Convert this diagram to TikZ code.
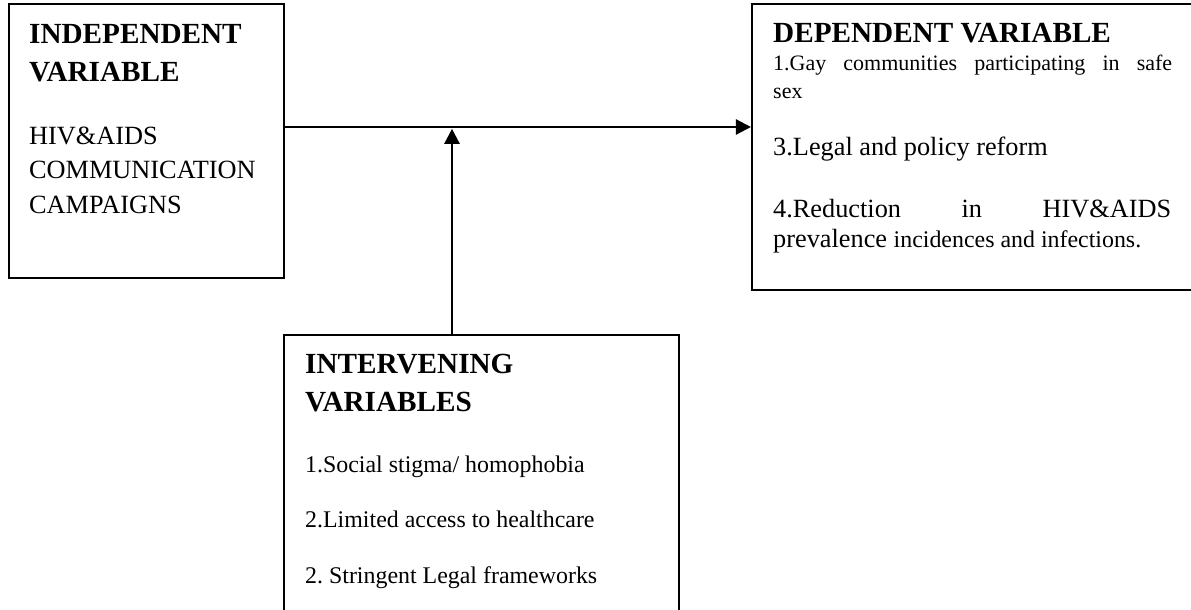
\documentclass[tikz,border=0pt]{standalone}
\usepackage{fontspec}
\setmainfont{Liberation Serif}
\usetikzlibrary{arrows.meta}
\frenchspacing
\begin{document}
\begin{tikzpicture}[x=1pt,y=-1pt,
  box/.style={draw, line width=2.1pt, inner sep=0, rectangle},
  arr/.style={line width=2.4pt, -{Triangle[length=15pt,width=15pt]}},
  txt/.style={anchor=base west, inner sep=0, font=\fontsize{26.3}{30}\selectfont},
  head/.style={anchor=base west, inner sep=0, font=\fontsize{29.2}{33}\selectfont\bfseries},
  smalltxt/.style={anchor=base west, inner sep=0, font=\fontsize{23.9}{28}\selectfont},
  tinytxt/.style={anchor=base west, inner sep=0, font=\fontsize{22}{26}\selectfont}
]
\useasboundingbox (0,0) rectangle (1191,610);
\clip (0,0) rectangle (1191,610);
\fill[white] (0,0) rectangle (1191,610);

% boxes
\node[box, minimum width=275pt, minimum height=274pt] (indep) at (146.5,141) {};
\node[box, minimum width=448pt, minimum height=286pt] (dep) at (976,147) {};
\node[box, minimum width=395pt, minimum height=290pt] (interv) at (481.5,480) {};

% independent variable text
\node[head] (i1) at (29,43.3) {INDEPENDENT};
\node[head] (i2) at (29,81.7) {VARIABLE};
\node[txt] (i3) at (29,144) {HIV\&AIDS};
\node[txt] (i4) at (29,178.5) {COMMUNICATION};
\node[txt] (i5) at (29,213.5) {CAMPAIGNS};

% dependent variable text
\node[head] (d1) at (773,42.5) {DEPENDENT VARIABLE};
\node[tinytxt] (d2) at (773,70.5) {\hbox to 399pt{1.Gay\hfill communities\hfill participating\hfill in\hfill safe}};
\node[tinytxt] (d3) at (773,98.5) {sex};
\node[txt] (d4) at (773,155.5) {3.Legal and policy reform};
\node[txt] (d5) at (773,217) {\hbox to 398pt{4.Reduction\hfill in\hfill HIV\&AIDS}};
\node[txt] (d6) at (773,247) {prevalence {\fontsize{23.9}{28}\selectfont incidences and infections.}};

% intervening variables text
\node[head] (v1) at (305,373) {INTERVENING};
\node[head] (v2) at (305,411) {VARIABLES};
\node[smalltxt] (v3) at (305,472) {1.Social stigma/ homophobia};
\node[smalltxt] (v4) at (305,527) {2.Limited access to healthcare};
\node[smalltxt] (v5) at (305,583) {2. Stringent Legal frameworks};

% connectors
\coordinate (row) at (0,127);
\coordinate (meet) at (452,128.8);
\draw[arr] (indep.east |- row) -- (dep.west |- row);
\draw[arr] (interv.north -| meet) -- (meet);
\end{tikzpicture}
\end{document}
